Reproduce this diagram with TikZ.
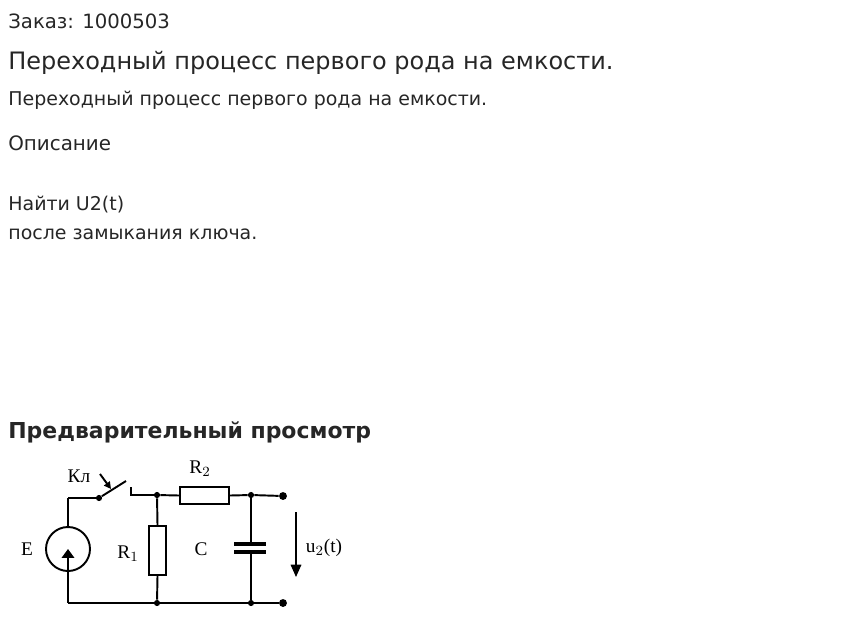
\documentclass[tikz,border=0pt]{standalone}
\usepackage{fontspec}
\setmainfont{DejaVu Sans}
\newfontfamily\circfont{Liberation Serif}
\usetikzlibrary{arrows.meta}

\begin{document}
\begin{tikzpicture}[x=0.02cm, y=-0.02cm,
        % Styles
        txt/.style={anchor=west, inner sep=0pt, text=black!85},
        wire/.style={draw, line width=1.1pt},
        resbox/.style={draw, line width=1.1pt, fill=white},
        dot/.style={circle, fill, inner sep=0pt, minimum size=4.5pt},
        lbl/.style={font=\circfont\fontsize{11}{13}\selectfont, inner sep=0pt}
    ]
    \useasboundingbox (0,0) rectangle (847,619);

    % Texts
    \node [txt, font=\fontsize{11.2}{13}\selectfont] (order) at (8,21) {Заказ: 1000503};
    \node [txt, font=\fontsize{13.65}{16}\selectfont] (title) at (8,63) {Переходный процесс первого рода на емкости.};
    \node [txt, font=\fontsize{10.8}{13}\selectfont] (sub) at (8,100) {Переходный процесс первого рода на емкости.};
    \node [txt, font=\fontsize{11.3}{13}\selectfont] (descr) at (8,143) {Описание};
    \node [txt, font=\fontsize{10.8}{13}\selectfont] (find) at (8,205) {Найти U2(t)};
    \node [txt, font=\fontsize{10.8}{13}\selectfont] (after) at (8,234) {после замыкания ключа.};
    \node [txt, font=\bfseries\fontsize{12.5}{15}\selectfont] (preview) at (8,432) {Предварительный просмотр};

    % Circuit points
    \coordinate (tl) at (68,498);
    \coordinate (bl) at (68,603);
    \node [dot, minimum size=3.5pt] (pivot) at (99,498) {};
    \coordinate (contact) at (131,487);
    \coordinate (contactb) at (131,495);
    \node [dot, minimum size=3.5pt] (n1) at (157,495) {};
    \node [dot, minimum size=3.5pt] (n2) at (251,495) {};
    \node [dot] (out1) at (283,496) {};
    \node [dot, minimum size=3.5pt] (b1) at (157,603) {};
    \node [dot, minimum size=3.5pt] (b2) at (251,603) {};
    \node [dot] (out2) at (283,603) {};

    % Source
    \node [draw, circle, line width=1.1pt, minimum size=44*0.02cm, inner sep=0pt] (src) at (68,549) {};
    \draw [wire] (tl) -- (src.north);
    \draw [wire] (src.south) -- (bl);
    \draw [wire, -{Triangle[length=5pt,width=7pt]}] (src.south) -- (src.center);
    \draw [wire] (tl) -- (pivot);

    % Switch
    \draw [wire] (pivot) -- (126,481);
    \draw [wire, -{Triangle[length=4pt,width=4pt]}] (100,474) -- (111,489);
    \draw [wire] (contact) -- (contactb) -- (n1);

    % Resistors and capacitor
    \node [resbox, minimum width=49*0.02cm, minimum height=17*0.02cm, inner sep=0pt] (r2) at (204.5,495.5) {};
    \node [resbox, minimum width=17*0.02cm, minimum height=49*0.02cm, inner sep=0pt] (r1) at (157.5,550.5) {};
    \draw [wire] (n1) -- (r2.west);
    \draw [wire] (r2.east) -- (n2) -- (out1);
    \draw [wire] (n1) -- (r1.north);
    \draw [wire] (r1.south) -- (b1);
    \coordinate (cp1) at (251,544);
    \coordinate (cp2) at (251,552);
    \draw [wire] (n2) -- (cp1);
    \draw [wire] (cp2) -- (b2);
    \draw [line width=2.5pt] (234,544) -- (266,544);
    \draw [line width=2.5pt] (234,552) -- (266,552);
    \draw [wire] (bl) -- (b1) -- (b2) -- (out2);

    % Voltage arrow
    \coordinate (va) at (296,512);
    \coordinate (vb) at (296,577);
    \draw [line width=0.9pt, -{Triangle[length=7pt,width=6pt]}] (va) -- (vb);

    % Labels
    \node [lbl] (kl) at (79,476) {Кл};
    \node [lbl] (lr2) at (200,469) {R$_2$};
    \node [lbl] (le) at (27,549) {E};
    \node [lbl] (lr1) at (128,554) {R$_1$};
    \node [lbl] (lc) at (201,549) {C};
    \node [lbl] (lu) at (324,548) {u$_2$(t)};
\end{tikzpicture}
\end{document}
